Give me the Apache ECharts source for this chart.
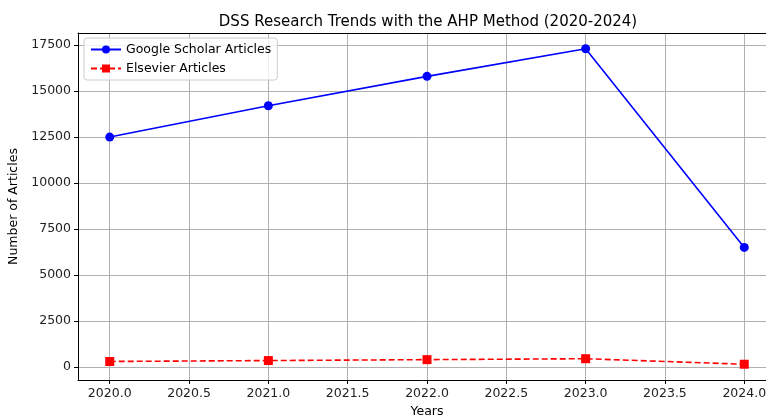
<!DOCTYPE html>
<html>
<head>
<meta charset="utf-8">
<script src="https://cdn.jsdelivr.net/npm/echarts@6/dist/echarts.min.js"></script>
<style>
  html, body { margin: 0; padding: 0; background: #fff; }
  #chart { width: 766px; height: 416px; }
</style>
</head>
<body>
<div id="chart"></div>
<script>
var years = [2020, 2021, 2022, 2023, 2024];
var googleScholar = [12500, 14200, 15800, 17300, 6500];
var elsevier = [300, 350, 400, 450, 150];
var xTicks = [2020.0, 2020.5, 2021.0, 2021.5, 2022.0, 2022.5, 2023.0, 2023.5, 2024.0];
var yTicks = [0, 2500, 5000, 7500, 10000, 12500, 15000, 17500];

var font = 'DejaVu Sans';
var chart = echarts.init(document.getElementById('chart'));

function pairs(vals) {
    var out = [];
    for (var i = 0; i < years.length; i++) {
        out.push([years[i], vals[i]]);
    }
    return out;
}

var option = {
    animation: false,
    textStyle: { fontFamily: font },
    title: {
        text: 'DSS Research Trends with the AHP Method (2020-2024)',
        left: 423,
        top: 10,
        textAlign: 'center',
        textStyle: { fontFamily: font, fontSize: 15, fontWeight: 'normal', color: '#000' }
    },
    legend: {
        left: 84,
        top: 38,
        orient: 'vertical',
        itemGap: 6,
        itemWidth: 30,
        itemHeight: 10,
        padding: [5, 6, 5, 6],
        backgroundColor: 'rgba(255,255,255,0.8)',
        borderColor: '#cccccc',
        borderWidth: 1,
        borderRadius: 3,
        textStyle: { fontFamily: font, fontSize: 12.5, color: '#000' },
        data: ['Google Scholar Articles', 'Elsevier Articles']
    },
    grid: {
        left: 78,
        right: -10,
        top: 33,
        bottom: 36,
        outerBoundsMode: 'none'
    },
    xAxis: [{
        type: 'value',
        min: 2019.8,
        max: 2024.2,
        name: 'Years',
        nameLocation: 'middle',
        nameGap: 24,
        nameTextStyle: { fontFamily: font, fontSize: 12.5, color: '#000' },
        axisLine: { show: true, onZero: false, lineStyle: { color: '#000', width: 1 } },
        axisTick: { show: true, customValues: xTicks, length: 4, lineStyle: { color: '#000' } },
        axisLabel: {
            customValues: xTicks,
            fontFamily: font,
            fontSize: 12.5,
            color: '#222',
            margin: 7,
            formatter: function (v) { return v.toFixed(1); }
        },
        splitLine: { show: true, lineStyle: { color: '#b0b0b0', width: 1 } }
    }, {
        // top spine
        type: 'value',
        position: 'top',
        min: 2019.8,
        max: 2024.2,
        axisLine: { show: true, onZero: false, lineStyle: { color: '#000', width: 1 } },
        axisTick: { show: false },
        axisLabel: { show: false },
        splitLine: { show: false }
    }],
    yAxis: {
        type: 'value',
        min: -707,
        max: 18157,
        name: 'Number of Articles',
        nameLocation: 'middle',
        nameGap: 53,
        nameTextStyle: { fontFamily: font, fontSize: 12.5, color: '#000' },
        axisLine: { show: true, onZero: false, lineStyle: { color: '#000', width: 1 } },
        axisTick: { show: true, customValues: yTicks, length: 4, lineStyle: { color: '#000' } },
        axisLabel: {
            customValues: yTicks,
            fontFamily: font,
            fontSize: 12.5,
            color: '#222',
            margin: 7,
            formatter: function (v) { return String(v); }
        },
        splitLine: { show: true, lineStyle: { color: '#b0b0b0', width: 1 } }
    },
    series: [{
        name: 'Google Scholar Articles',
        type: 'line',
        data: pairs(googleScholar),
        symbol: 'circle',
        symbolSize: 9,
        itemStyle: { color: '#0000ff' },
        lineStyle: { color: '#0000ff', width: 1.6 }
    }, {
        name: 'Elsevier Articles',
        type: 'line',
        data: pairs(elsevier),
        symbol: 'rect',
        symbolSize: 9,
        itemStyle: { color: '#ff0000' },
        lineStyle: { color: '#ff0000', width: 1.6, type: [6, 3] }
    }]
};
chart.setOption(option);
</script>
</body>
</html>
